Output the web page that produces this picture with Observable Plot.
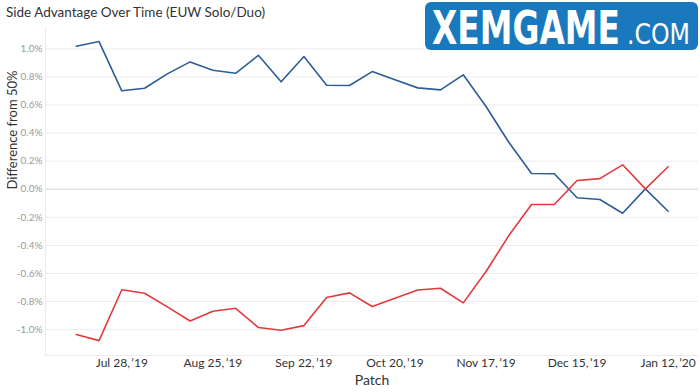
<!DOCTYPE html>
<html>
<head>
<meta charset="utf-8">
<script src="https://cdn.jsdelivr.net/npm/d3@7"></script>
<script src="https://cdn.jsdelivr.net/npm/@observablehq/plot@0.6"></script>
<style>
  body { margin: 0; background: #fff; }
  #wrap { position: relative; width: 700px; height: 392px; overflow: hidden; }
  #title { position: absolute; left: 6px; top: 4px; font: 13.5px Lato, "Open Sans", sans-serif; color: #333; white-space: nowrap; }
  #logo { position: absolute; left: 425px; top: 0px; overflow: visible; }
  #chart { position: absolute; left: 0; top: 0; }
</style>
</head>
<body>
<div id="wrap">
  <div id="chart"></div>
  <div id="title">Side Advantage Over Time (EUW Solo/Duo)</div>
  <svg id="logo" width="275" height="66" viewBox="0 0 275 66">
    <rect x="0" y="2" width="273" height="48" rx="6" fill="#1a78bd"/>
    <text id="logoMain" x="0" y="0" fill="#fff" font-family="'Liberation Sans Narrow','DejaVu Sans Condensed',sans-serif" font-weight="bold" font-size="46">XEMGAME</text>
    <text id="logoCom" x="0" y="0" fill="#fff" font-family="'Liberation Sans Narrow','DejaVu Sans Condensed',sans-serif" font-size="28">.COM</text>
  </svg>
</div>
<script>
// fit logo words into their boxes
function fitText(id, x, y, targetW) {
  const el = document.getElementById(id);
  const w = el.getBBox().width;
  el.setAttribute("transform", `translate(${x},${y}) scale(${targetW / w},1)`);
}
fitText("logoMain", 7, 44, 188);
fitText("logoCom", 202, 44, 63);

// Weekly patch dates
const dates = ["2019-07-14","2019-07-21","2019-07-28","2019-08-04","2019-08-11","2019-08-18","2019-08-25",
  "2019-09-01","2019-09-08","2019-09-15","2019-09-22","2019-09-29","2019-10-06","2019-10-13","2019-10-20",
  "2019-10-27","2019-11-03","2019-11-10","2019-11-17","2019-11-24","2019-12-01","2019-12-08","2019-12-15",
  "2019-12-22","2019-12-29","2020-01-05","2020-01-12"];
// Difference from 50% (percentage points)
const blueSide = [1.019, 1.052, 0.701, 0.719, 0.822, 0.907, 0.848, 0.826, 0.954, 0.765, 0.945, 0.741, 0.739, 0.838,
  0.780, 0.722, 0.708, 0.815, 0.589, 0.335, 0.112, 0.110, -0.061, -0.073, -0.171, 0.003, -0.157];
const redSide = [-1.035, -1.078, -0.716, -0.741, -0.838, -0.938, -0.869, -0.848, -0.985, -1.004, -0.971, -0.771, -0.738, -0.835,
  -0.776, -0.717, -0.705, -0.809, -0.586, -0.330, -0.109, -0.109, 0.062, 0.076, 0.174, 0.003, 0.160];
// Axis ticks
const xTickDates = ["2019-07-28","2019-08-25","2019-09-22","2019-10-20","2019-11-17","2019-12-15","2020-01-12"];
const xTickLabels = ["Jul 28,\u2009\u201919","Aug 25,\u2009\u201919","Sep 22,\u2009\u201919","Oct 20,\u2009\u201919","Nov 17,\u2009\u201919","Dec 15,\u2009\u201919","Jan 12,\u2009\u201920"];
const yTicks = [-1.0, -0.8, -0.6, -0.4, -0.2, 0.0, 0.2, 0.4, 0.6, 0.8, 1.0];

const blueData = dates.map((d, i) => ({date: new Date(d), value: blueSide[i]}));
const redData = dates.map((d, i) => ({date: new Date(d), value: redSide[i]}));
const tickDates = xTickDates.map(d => new Date(d));
const labelFor = new Map(xTickDates.map((d, i) => [+new Date(d), xTickLabels[i]]));

const xDomain = [new Date("2019-07-04T13:00Z"), new Date("2020-01-21T08:00Z")];
const yDomain = [-1.184, 1.152];

const chart = Plot.plot({
  width: 700,
  height: 392,
  marginTop: 27,
  marginBottom: 37,
  marginLeft: 45,
  marginRight: 2,
  style: {fontFamily: "Lato, 'Open Sans', sans-serif", background: "transparent"},
  x: {type: "utc", domain: xDomain},
  y: {domain: yDomain},
  marks: [
    Plot.gridY(yTicks.filter(v => v !== 0), {stroke: "#ececec", strokeOpacity: 1}),
    Plot.ruleY([0], {stroke: "#e2e2e2", strokeWidth: 1.5}),
    Plot.ruleY([yDomain[0]], {stroke: "#ececec"}),
    Plot.ruleX([xDomain[0]], {stroke: "#ececec"}),
    Plot.line(blueData, {x: "date", y: "value", stroke: "#2c5d98", strokeWidth: 1.6}),
    Plot.line(redData, {x: "date", y: "value", stroke: "#e3393d", strokeWidth: 1.6}),
    Plot.axisY(yTicks, {tickSize: 0, tickPadding: 3, fontSize: 10, color: "#9a9a9a", label: null,
      tickFormat: d => d.toFixed(1) + "%"}),
    Plot.axisX(tickDates, {tickSize: 0, tickPadding: 3, fontSize: 12, color: "#333", label: null,
      tickFormat: d => labelFor.get(+d)}),
    Plot.text(["Patch"], {frameAnchor: "bottom", dy: 29, fontSize: 14, fill: "#333"}),
    Plot.text(["Difference from 50%"], {frameAnchor: "left", dx: -33, dy: -2, rotate: -90, fontSize: 13, fill: "#333"})
  ]
});
document.getElementById("chart").appendChild(chart);
</script>
</body>
</html>
